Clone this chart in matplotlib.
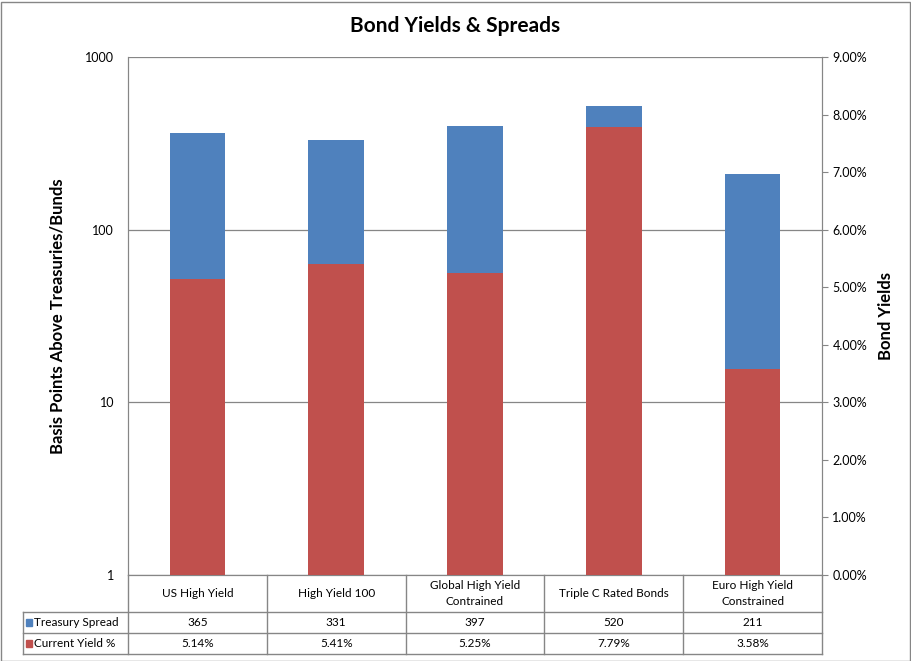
import matplotlib.pyplot as plt
from matplotlib.ticker import FixedLocator, FuncFormatter, NullLocator
from matplotlib.patches import Rectangle
from matplotlib.lines import Line2D

categories = ["US High Yield", "High Yield 100", "Global High Yield\nContrained",
              "Triple C Rated Bonds", "Euro High Yield\nConstrained"]
treasury_spread = [365, 331, 397, 520, 211]
current_yield = [5.14, 5.41, 5.25, 7.79, 3.58]

blue = "#4F81BD"
red = "#C0504D"
edge = "#868686"

plt.rcParams['font.family'] = ['Lato', 'DejaVu Sans']

W, H = 911, 661
fig = plt.figure(figsize=(W / 100, H / 100), dpi=100)

# plot area in pixels
L, R, T, B = 128, 822, 57, 575
ax = fig.add_axes([L / W, 1 - B / H, (R - L) / W, (B - T) / H])
ax2 = ax.twinx()

x = range(len(categories))
ax.bar(x, [v - 1 for v in treasury_spread], bottom=1, width=0.4, color=blue, zorder=2)
ax.set_yscale('log')
ax.set_ylim(1, 1000)
ax.set_xlim(-0.5, len(categories) - 0.5)
ax.yaxis.set_major_locator(FixedLocator([1, 10, 100, 1000]))
ax.yaxis.set_minor_locator(NullLocator())
ax.yaxis.set_major_formatter(FuncFormatter(lambda v, p: f"{v:g}"))
ax.grid(axis='y', color=edge, lw=0.9)
ax.set_axisbelow(True)
ax.set_xticks([])

ax2.bar(x, current_yield, width=0.4, color=red, zorder=3)
ax2.set_ylim(0, 9)
ax2.set_yticks(range(10))
ax2.yaxis.set_major_formatter(FuncFormatter(lambda v, p: f"{v:.2f}%"))

for a in (ax, ax2):
    for s in a.spines.values():
        s.set_color(edge)
    a.spines['top'].set_visible(False)
    a.tick_params(axis='y', colors=edge, labelcolor='black', labelsize=9, length=4)
ax.tick_params(axis='y', length=0, pad=10)
ax2.spines['right'].set_visible(True)

ax.set_ylabel("Basis Points Above Treasuries/Bunds", fontsize=12, fontweight='bold', labelpad=14)
ax2.set_ylabel("Bond Yields", fontsize=12, fontweight='bold', labelpad=8)
fig.text(0.5, 1 - 26 / H, "Bond Yields & Spreads", ha='center', va='center',
         fontsize=15, fontweight='bold')

# data table
def px(xp, yp):
    return xp / W, 1 - yp / H

def hline(x0, x1, y):
    fig.add_artist(Line2D([x0 / W, x1 / W], [1 - y / H, 1 - y / H], color=edge, lw=1))

def vline(xp, y0, y1):
    fig.add_artist(Line2D([xp / W, xp / W], [1 - y0 / H, 1 - y1 / H], color=edge, lw=1))

tl = 23
rows = [575, 612, 633, 654]
colw = (R - L) / len(categories)
hline(tl, R, rows[1])
hline(tl, R, rows[2])
hline(tl, R, rows[3])
vline(tl, rows[1], rows[3])
for i in range(len(categories) + 1):
    vline(L + i * colw, rows[0], rows[3])

for i, c in enumerate(categories):
    cx = L + (i + 0.5) * colw
    fig.text(*px(cx, (rows[0] + rows[1]) / 2), c, ha='center', va='center', fontsize=8.5,
             linespacing=1.5)
    fig.text(*px(cx, (rows[1] + rows[2]) / 2), f"{treasury_spread[i]}", ha='center',
             va='center', fontsize=8.5)
    fig.text(*px(cx, (rows[2] + rows[3]) / 2), f"{current_yield[i]:.2f}%", ha='center',
             va='center', fontsize=8.5)

for j, (lab, col) in enumerate([("Treasury Spread", blue), ("Current Yield %", red)]):
    yc = (rows[j + 1] + rows[j + 2]) / 2
    fig.add_artist(Rectangle(px(26, yc + 3.5), 6 / W, 7 / H, color=col))
    fig.text(*px(34, yc), lab, ha='left', va='center', fontsize=8.5)

# outer border
fig.add_artist(Rectangle((0.5 / W, 0.5 / H), (W - 2) / W, (H - 2) / H, fill=False,
                         edgecolor=edge, lw=1))

fig.savefig("out.png", dpi=100)
